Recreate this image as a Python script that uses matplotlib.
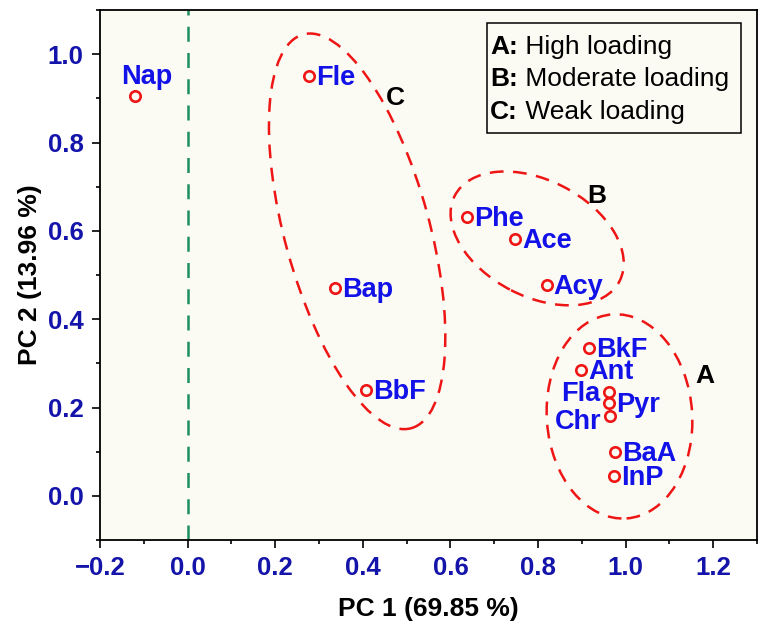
import matplotlib
matplotlib.use("Agg")
import matplotlib.pyplot as plt
from matplotlib.patches import Ellipse, Rectangle
from matplotlib.ticker import MultipleLocator

# PCA loadings
compounds = ["Nap", "Fle", "Bap", "BbF", "Phe", "Ace", "Acy",
             "BkF", "Ant", "Fla", "Pyr", "Chr", "BaA", "InP"]
pc1 = [-0.120, 0.277, 0.336, 0.408, 0.637, 0.748, 0.820,
       0.917, 0.898, 0.961, 0.963, 0.964, 0.976, 0.974]
pc2 = [0.905, 0.950, 0.470, 0.239, 0.632, 0.581, 0.477,
       0.336, 0.284, 0.236, 0.211, 0.181, 0.100, 0.045]

group_keys = ["A", "B", "C"]
group_names = ["High loading", "Moderate loading", "Weak loading"]
pc1_var = 69.85
pc2_var = 13.96

# label placement (side of the marker) - styling only
label_side = {"Nap": "top", "Fla": "left", "Chr": "left"}

# dashed group outlines: (key, centre x, centre y, width, height, angle, label x, label y)
outlines = [
    ("A", 0.986, 0.180, 0.332, 0.463, 4, 1.180, 0.272),
    ("B", 0.798, 0.583, 0.423, 0.263, -27, 0.935, 0.680),
    ("C", 0.387, 0.599, 0.330, 0.925, 15.5, 0.475, 0.900),
]

FONT = "Liberation Sans"
TICK_BLUE = "#1414aa"
LABEL_BLUE = "#1212e8"
RED = "#ee1515"

plt.rcParams["font.family"] = [FONT, "DejaVu Sans"]

fig = plt.figure(figsize=(7.59, 6.28), dpi=100)
ax = fig.add_axes([0.1318, 0.140, 0.8656, 0.844])
ax.set_facecolor("#fbfbf4")

ax.set_xlim(-0.2, 1.3)
ax.set_ylim(-0.1, 1.1)

ax.axvline(0.0, color="#1b8f5f", lw=1.8, linestyle=(0, (6, 4.5)), zorder=1)

for key, cx, cy, w, h, ang, lx, ly in outlines:
    ax.add_patch(Ellipse((cx, cy), w, h, angle=ang, fill=False, edgecolor=RED,
                         lw=1.8, linestyle=(0, (5.5, 3.8)), zorder=2))
    ax.text(lx, ly, key, fontsize=19, fontweight="bold", color="black",
            ha="center", va="center", zorder=4)

ax.plot(pc1, pc2, linestyle="none", marker="o", markersize=7.5, markerfacecolor="none",
        markeredgecolor=RED, markeredgewidth=1.9, zorder=3)

for name, x, y in zip(compounds, pc1, pc2):
    side = label_side.get(name, "right")
    if side == "top":
        offset, ha = (12, 12), "center"
    elif side == "left":
        offset, ha = (-8, -13 if name == "Chr" else -9), "right"
    else:
        offset, ha = (7, -9), "left"
    ax.annotate(name, (x, y), xytext=offset, textcoords="offset pixels",
                ha=ha, va="baseline", fontsize=19.5, fontweight="bold",
                color=LABEL_BLUE, zorder=4)

# legend box with bold keys
ax.add_patch(Rectangle((0.589, 0.768), 0.387, 0.207, transform=ax.transAxes,
                       fill=False, edgecolor="black", lw=1.1, zorder=5))
baselines = [0.917, 0.857, 0.794]
for key, desc, yb in zip(group_keys, group_names, baselines):
    t = ax.text(0.594, yb, f"{key}:", transform=ax.transAxes, fontsize=19,
                fontweight="bold", ha="left", va="baseline", zorder=6)
    ax.annotate(f" {desc}", xy=(1, 0), xycoords=t, fontsize=19,
                ha="left", va="bottom", zorder=6)

ax.xaxis.set_major_locator(MultipleLocator(0.2))
ax.xaxis.set_minor_locator(MultipleLocator(0.1))
ax.yaxis.set_major_locator(MultipleLocator(0.2))
ax.yaxis.set_minor_locator(MultipleLocator(0.1))
ax.set_yticks([0.0, 0.2, 0.4, 0.6, 0.8, 1.0])
ax.tick_params(which="major", direction="out", length=5.8, width=1.2,
               labelsize=18.5, labelcolor=TICK_BLUE)
ax.tick_params(which="minor", direction="out", length=2.9, width=1.2)
ax.tick_params(axis="x", which="major", pad=5.5)
ax.tick_params(axis="y", which="major", pad=6.0)
for lab in ax.get_xticklabels() + ax.get_yticklabels():
    lab.set_fontweight("bold")
for sp in ax.spines.values():
    sp.set_linewidth(1.3)

ax.set_xlabel(f"PC 1 ({pc1_var:.2f} %)", fontsize=19, fontweight="bold", labelpad=12.5)
ax.set_ylabel(f"PC 2 ({pc2_var:.2f} %)", fontsize=19, fontweight="bold", labelpad=4.5)

fig.savefig("out.png", dpi=100, facecolor="white")
